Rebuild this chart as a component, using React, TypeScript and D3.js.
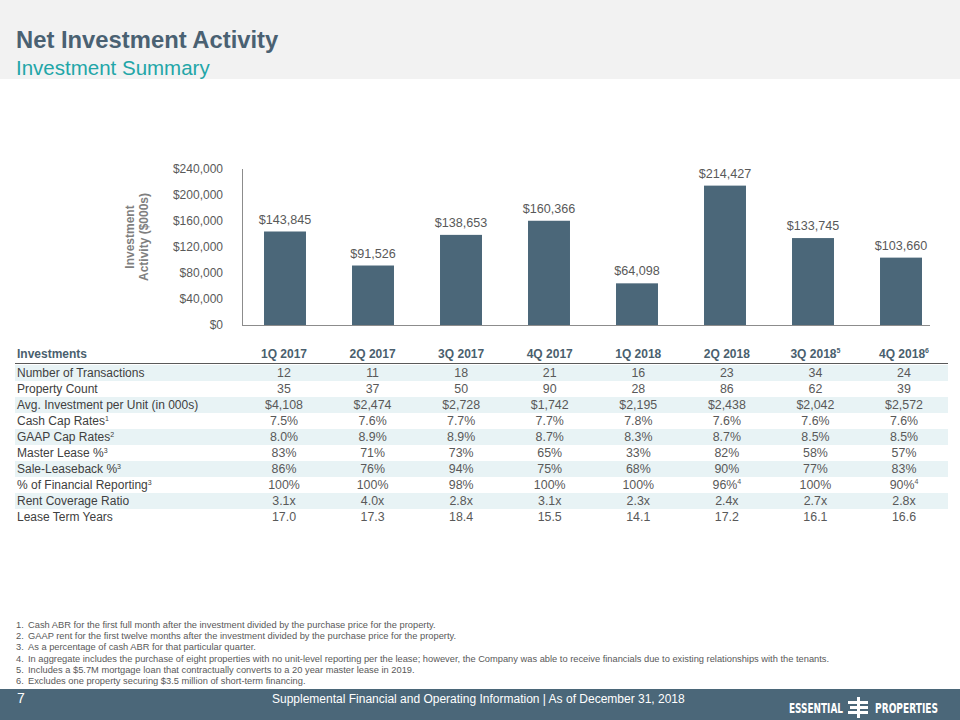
import React from "react";
import * as d3 from "d3";

const quarters = ["1Q 2017", "2Q 2017", "3Q 2017", "4Q 2017", "1Q 2018", "2Q 2018", "3Q 2018", "4Q 2018"];
const quarterSups = ["", "", "", "", "", "", "5", "6"];
const investment = [143845, 91526, 138653, 160366, 64098, 214427, 133745, 103660];
const yTicks = [0, 40000, 80000, 120000, 160000, 200000, 240000];

const rowLabels = [
  "Number of Transactions",
  "Property Count",
  "Avg. Investment per Unit (in 000s)",
  "Cash Cap Rates",
  "GAAP  Cap Rates",
  "Master Lease %",
  "Sale-Leaseback %",
  "% of Financial Reporting",
  "Rent Coverage Ratio",
  "Lease Term Years",
];
const rowLabelSups = ["", "", "", "1", "2", "3", "3", "3", "", ""];

const transactions = ["12", "11", "18", "21", "16", "23", "34", "24"];
const propertyCount = ["35", "37", "50", "90", "28", "86", "62", "39"];
const avgInvestment = ["$4,108", "$2,474", "$2,728", "$1,742", "$2,195", "$2,438", "$2,042", "$2,572"];
const cashCap = ["7.5%", "7.6%", "7.7%", "7.7%", "7.8%", "7.6%", "7.6%", "7.6%"];
const gaapCap = ["8.0%", "8.9%", "8.9%", "8.7%", "8.3%", "8.7%", "8.5%", "8.5%"];
const masterLease = ["83%", "71%", "73%", "65%", "33%", "82%", "58%", "57%"];
const saleLeaseback = ["86%", "76%", "94%", "75%", "68%", "90%", "77%", "83%"];
const financialReporting = ["100%", "100%", "98%", "100%", "100%", "96%", "100%", "90%"];
const financialReportingSups = ["", "", "", "", "", "4", "", "4"];
const rentCoverage = ["3.1x", "4.0x", "2.8x", "3.1x", "2.3x", "2.4x", "2.7x", "2.8x"];
const leaseTerm = ["17.0", "17.3", "18.4", "15.5", "14.1", "17.2", "16.1", "16.6"];

const footnotes = [
  "Cash ABR  for the first full month after the investment divided by the purchase price for the property.",
  "GAAP rent  for the first twelve months after the investment divided by the purchase price for the property.",
  "As a percentage  of cash ABR for that particular quarter.",
  "In aggregate  includes the purchase of eight properties with no unit-level reporting per the lease; however, the Company was able to receive financials due to existing relationships with the tenants.",
  "Includes a $5.7M  mortgage loan that contractually converts to a 20  year master lease in 2019.",
  "Excludes one property securing $3.5 million of short-term financing.",
];

const FONT = "'Liberation Sans', Arial, sans-serif";
const NARROW = "'Liberation Sans Narrow', 'DejaVu Sans Condensed', sans-serif";
const BAR = "#4b6779";
const GRAY = "#595959";
const DARK = "#404040";
const HEAD = "#4a5f6e";

export default function App() {
  const W = 960, H = 720;
  const x = d3.scaleBand<string>().domain(quarters).range([241, 945]).paddingInner(0.523).paddingOuter(0.2615);
  const y = d3.scaleLinear().domain([0, 240000]).range([325, 169]);
  const colX = d3.scalePoint<string>().domain(quarters).range([284, 904]);
  const fmt = d3.format(",");

  const rows = [
    { vals: transactions, sups: [] as string[] },
    { vals: propertyCount, sups: [] as string[] },
    { vals: avgInvestment, sups: [] as string[] },
    { vals: cashCap, sups: [] as string[] },
    { vals: gaapCap, sups: [] as string[] },
    { vals: masterLease, sups: [] as string[] },
    { vals: saleLeaseback, sups: [] as string[] },
    { vals: financialReporting, sups: financialReportingSups },
    { vals: rentCoverage, sups: [] as string[] },
    { vals: leaseTerm, sups: [] as string[] },
  ];
  const rowY = (i: number) => 373 + 16 * i;
  const logoScale = 0.72;

  return (
    <svg width={W} height={H} viewBox={`0 0 ${W} ${H}`} style={{ position: "absolute", left: 0, top: 0, display: "block" }} fontFamily={FONT}>
      <rect x={0} y={0} width={W} height={H} fill="#ffffff" />
      {/* header */}
      <rect x={0} y={0} width={W} height={79} fill="#f2f2f2" />
      <text x={16} y={48} fontSize={23.8} fontWeight="bold" fill="#4a6172">Net Investment Activity</text>
      <text x={16} y={75} fontSize={20.5} fill="#22a6a8">Investment Summary</text>

      {/* y axis title */}
      <g transform="translate(137,237) rotate(-90)">
        <text x={0} y={-3} textAnchor="middle" fontSize={12} fontWeight="bold" fill="#7f7f7f">Investment</text>
        <text x={0} y={11} textAnchor="middle" fontSize={12} fontWeight="bold" fill="#7f7f7f">Activity  ($000s)</text>
      </g>

      {/* y ticks */}
      {yTicks.map((t) => (
        <text key={t} x={223} y={y(t)} dy="0.35em" textAnchor="end" fontSize={12} fill={GRAY}>{"$" + fmt(t)}</text>
      ))}

      {/* bars */}
      {quarters.map((q, i) => (
        <g key={q}>
          <rect x={x(q)} y={y(investment[i])} width={x.bandwidth()} height={y(0) - y(investment[i])} fill={BAR} />
          <text x={(x(q) as number) + x.bandwidth() / 2} y={y(investment[i]) - 8} textAnchor="middle" fontSize={12.6} fill={GRAY}>{"$" + fmt(investment[i])}</text>
        </g>
      ))}
      {/* axes lines */}
      <line x1={242.5} x2={242.5} y1={169} y2={325.5} stroke="#8c8c8c" strokeWidth={1} />
      <line x1={242} x2={930} y1={325.5} y2={325.5} stroke="#8c8c8c" strokeWidth={1} />

      {/* table */}
      {rows.map((r, i) => (i % 2 === 0 ? <rect key={"bg" + i} x={15} y={rowY(i) - 8} width={933} height={16} fill="#e8f3f5" /> : null))}
      <text x={17} y={358} fontSize={12} fontWeight="bold" fill={HEAD}>Investments</text>
      {quarters.map((q, j) => (
        <text key={"h" + q} x={colX(q)} y={358} textAnchor="middle" fontSize={12} fontWeight="bold" fill={HEAD}>
          {q}
          {quarterSups[j] ? <tspan fontSize={7} dy={-5}>{quarterSups[j]}</tspan> : null}
        </text>
      ))}
      <line x1={15} x2={948} y1={363.5} y2={363.5} stroke="#595959" strokeWidth={1} />
      {rowLabels.map((l, i) => (
        <text key={"l" + i} x={17} y={rowY(i)} dy="0.35em" fontSize={12} fill={DARK}>
          {l}
          {rowLabelSups[i] ? <tspan fontSize={7} dy={-4}>{rowLabelSups[i]}</tspan> : null}
        </text>
      ))}
      {rows.map((r, i) =>
        r.vals.map((v, j) => (
          <text key={"v" + i + "-" + j} x={colX(quarters[j])} y={rowY(i)} dy="0.35em" textAnchor="middle" fontSize={12.4} fill={GRAY}>
            {v}
            {r.sups[j] ? <tspan fontSize={7} dy={-5}>{r.sups[j]}</tspan> : null}
          </text>
        ))
      )}

      {/* footnotes */}
      {footnotes.map((f, i) => (
        <g key={"f" + i}>
          <text x={16} y={628 + 11.2 * i} fontSize={9.3} fill={GRAY}>{i + 1 + "."}</text>
          <text x={28} y={628 + 11.2 * i} fontSize={9.3} fill={GRAY}>{f}</text>
        </g>
      ))}

      {/* footer */}
      <rect x={0} y={689} width={W} height={31} fill="#4b6779" />
      <text x={17} y={703} fontSize={14} fill="#ffffff">7</text>
      <text x={272} y={703} fontSize={12} fill="#ffffff">Supplemental Financial and Operating Information | As of December 31, 2018</text>
      <g transform={`translate(789,713) scale(${logoScale},1)`}>
        <text x={0} y={0} fontSize={14} fontWeight="bold" fill="#ffffff" fontFamily={NARROW} textLength={54 / logoScale} lengthAdjust="spacingAndGlyphs">ESSENTIAL</text>
      </g>
      <g fill="#ffffff">
        <rect x={857} y={697} width={3} height={21} />
        <rect x={848} y={701} width={20} height={3} />
        <rect x={850} y={706} width={18} height={3} />
        <rect x={848} y={711} width={20} height={3} />
      </g>
      <g transform={`translate(875,713) scale(${logoScale},1)`}>
        <text x={0} y={0} fontSize={14} fontWeight="bold" fill="#ffffff" fontFamily={NARROW} textLength={63 / logoScale} lengthAdjust="spacingAndGlyphs">PROPERTIES</text>
      </g>
    </svg>
  );
}
